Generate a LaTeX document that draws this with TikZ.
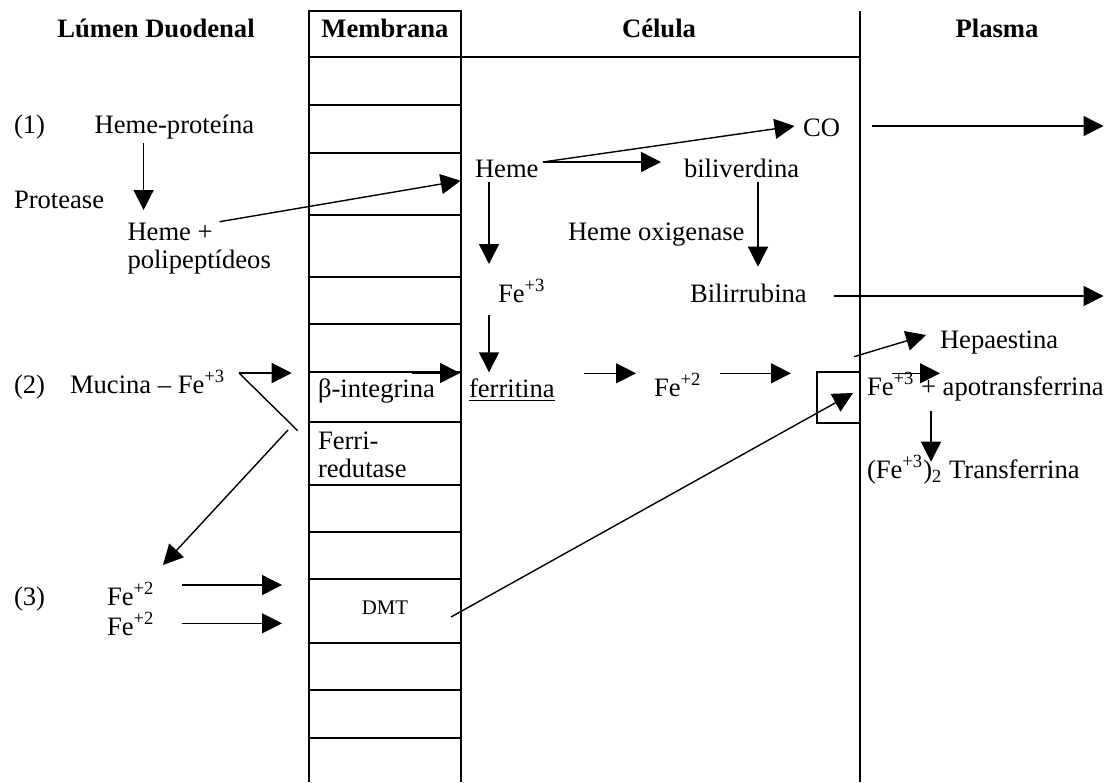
\documentclass[tikz,border=0pt]{standalone}
\usepackage{fontspec}
\setmainfont{Liberation Serif}
\usetikzlibrary{arrows.meta}
\begin{document}
\begin{tikzpicture}[x=0.5pt,y=-0.5pt,
  txt/.style={inner sep=0pt, outer sep=0pt, font=\fontsize{13.3}{16}\selectfont},
  hdr/.style={txt, font=\fontsize{13.3}{16}\selectfont\bfseries, anchor=base},
  lt/.style={txt, anchor=base west},
  conn/.style={line width=0.7pt},
  arr/.style={conn, -{Triangle[length=10pt,width=10pt]}},
  frame/.style={line width=1pt}]
\useasboundingbox (0,0) rectangle (1117,782);

% ---- frame ----
\draw[frame] (309,782) -- (309,11) -- (461,11) -- (461,782);
\draw[frame] (309,57) -- (859.5,57);
\draw[frame] (859.5,11) -- (859.5,782);
\foreach \yy in {105,152.7,215,276.7,324,372.3,422.3,485,532.3,579.3,642.7,690,737.7}
  \draw[frame] (309,\yy) -- (461,\yy);
\draw[frame] (859.5,371.7) -- (817,371.7) -- (817,422.7) -- (859.5,422.7);

% ---- headers ----
\node[hdr] (hlumen) at (156,37) {Lúmen Duodenal};
\node[hdr] (hmem) at (385,37) {Membrana};
\node[hdr] (hcel) at (659,37) {Célula};
\node[hdr] (hpla) at (997,37) {Plasma};

% ---- texts ----
\node[lt] (n1) at (14,133) {(1)};
\node[lt] (hprot) at (94.6,133) {Heme-proteína};
\node[lt] (prot) at (14,208) {Protease};
\node[lt] (hplus) at (127.5,240) {Heme +};
\node[lt] (polip) at (127.5,268) {polipeptídeos};
\node[lt] (heme) at (475,177) {Heme};
\node[lt] (co) at (803,136) {CO};
\node[lt] (bili) at (684,177) {biliverdina};
\node[lt] (hox) at (568,240) {Heme oxigenase};
\node[lt] (fe3) at (498,302) {Fe\textsuperscript{+3}};
\node[lt] (bilir) at (690,302) {Bilirrubina};
\node[lt] (n2) at (14,393) {(2)};
\node[lt] (muc) at (70,393) {Mucina – Fe\textsuperscript{+3}};
\node[lt] (bint) at (318,397) {β-integrina};
\node[lt] (ferr) at (469,397) {\underline{ferritina}};
\node[lt] (fe2c) at (654,396) {Fe\textsuperscript{+2}};
\node[lt] (hepa) at (940,348) {Hepaestina};
\node[lt] (apo) at (867,395) {Fe\textsuperscript{+3} + apotransferrina};
\node[lt] (tf) at (867,478) {(Fe\textsuperscript{+3})\textsubscript{2} Transferrina};
\node[lt] (ferri) at (318,449) {Ferri-};
\node[lt] (redu) at (318,477) {redutase};
\node[lt] (n3) at (14,605) {(3)};
\node[lt] (fe2a) at (107,605) {Fe\textsuperscript{+2}};
\node[lt] (fe2b) at (107,635) {Fe\textsuperscript{+2}};
\node[txt, anchor=base, font=\fontsize{10.4}{12}\selectfont] (dmt) at (385,614) {DMT};

% ---- connector end points ----
\coordinate (hpS) at (143.6,143);   \coordinate (hpE) at (143.6,210);
\coordinate (hhS) at (219.6,221.7); \coordinate (hhE) at (460.7,180.7);
\coordinate (hmS) at (489,181.7);   \coordinate (hmE) at (489,264);
\coordinate (f3S) at (489,315);     \coordinate (f3E) at (489,372.3);
\coordinate (hO)  at (543,162);
\coordinate (coE) at (794.5,126);
\coordinate (biE) at (661,162);
\coordinate (bvS) at (758,181.7);   \coordinate (bvE) at (758,266.7);
\coordinate (coS) at (872,126);     \coordinate (coX) at (1103.5,126);
\coordinate (brS) at (834,296);     \coordinate (brX) at (1103.5,296);
\coordinate (mcA) at (239,373);     \coordinate (mcB) at (291.7,373);
\coordinate (mcC) at (297.7,430.7);
\coordinate (rdS) at (288,430);     \coordinate (rdE) at (163,565);
\coordinate (biS) at (411.7,373);   \coordinate (biX) at (460,373);
\coordinate (frS) at (584,373.3);   \coordinate (frE) at (636,373.3);
\coordinate (f2S) at (720,373.3);   \coordinate (f2E) at (791,373.3);
\coordinate (dmS) at (451,617);     \coordinate (dmE) at (853,393);
\coordinate (hpaS) at (854,356.7);  \coordinate (hpaE) at (926,335);
\coordinate (apS) at (892,373.3);   \coordinate (apE) at (940,373.3);
\coordinate (tfS) at (931,411);     \coordinate (tfE) at (931,461.7);
\coordinate (faS) at (182,585);     \coordinate (faE) at (282,585);
\coordinate (fbS) at (182,623.3);   \coordinate (fbE) at (282,623.3);

% ---- connectors ----
\draw[arr] (hpS) -- (hpE);
\draw[arr] (hhS) -- (hhE);
\draw[arr] (hmS) -- (hmE);
\draw[arr] (f3S) -- (f3E);
\draw[arr] (hO) -- (coE);
\draw[arr] (hO) -- (biE);
\draw[arr] (bvS) -- (bvE);
\draw[arr] (coS) -- (coX);
\draw[arr] (brS) -- (brX);
\draw[conn] (mcC) -- (mcA);
\draw[arr] (mcA) -- (mcB);
\draw[arr] (rdS) -- (rdE);
\draw[arr] (biS) -- (biX);
\draw[arr] (frS) -- (frE);
\draw[arr] (f2S) -- (f2E);
\draw[arr] (dmS) -- (dmE);
\draw[arr] (hpaS) -- (hpaE);
\draw[arr] (apS) -- (apE);
\draw[arr] (tfS) -- (tfE);
\draw[arr] (faS) -- (faE);
\draw[arr] (fbS) -- (fbE);
\end{tikzpicture}
\end{document}
